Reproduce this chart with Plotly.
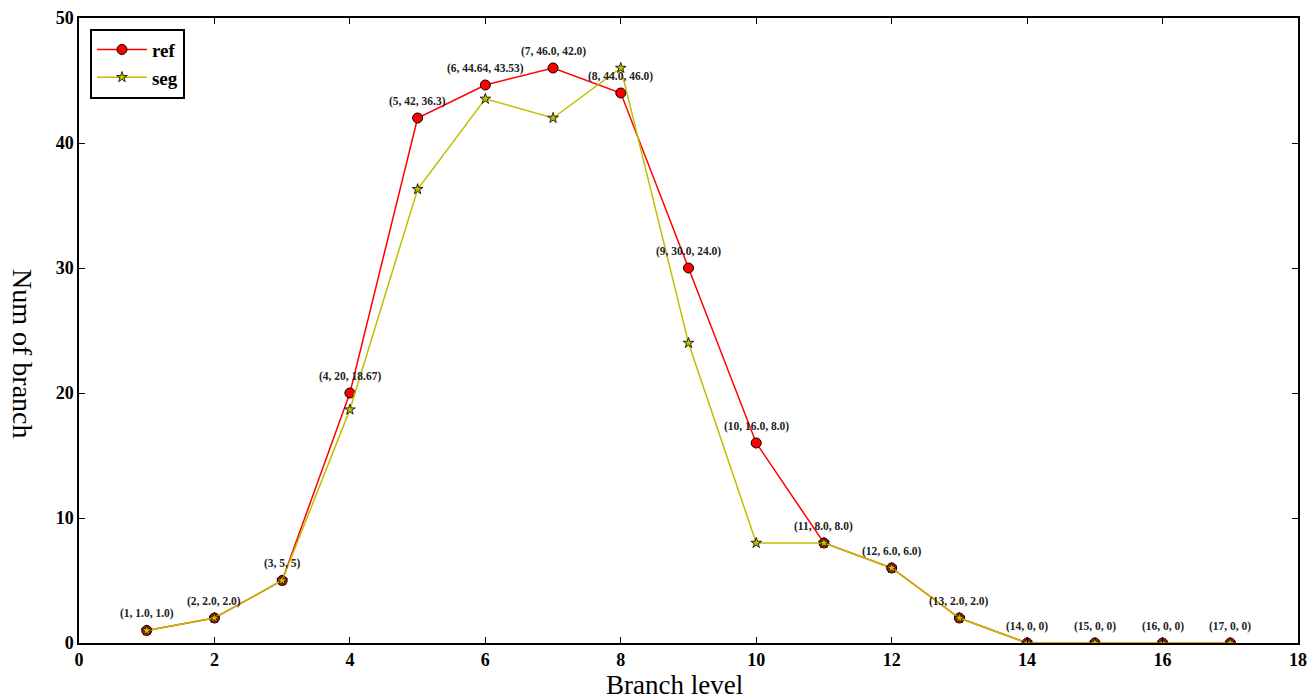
import plotly.graph_objects as go

levels = list(range(1, 18))
ref = [1.0, 2.0, 5, 20, 42, 44.64, 46.0, 44.0, 30.0, 16.0, 8.0, 6.0, 2.0, 0, 0, 0, 0]
seg = [1.0, 2.0, 5, 18.67, 36.3, 43.53, 42.0, 46.0, 24.0, 8.0, 8.0, 6.0, 2.0, 0, 0, 0, 0]
ref_labels = ["1.0", "2.0", "5", "20", "42", "44.64", "46.0", "44.0", "30.0", "16.0", "8.0", "6.0", "2.0", "0", "0", "0", "0"]
seg_labels = ["1.0", "2.0", "5", "18.67", "36.3", "43.53", "42.0", "46.0", "24.0", "8.0", "8.0", "6.0", "2.0", "0", "0", "0", "0"]

FONT = "Liberation Serif"

fig = go.Figure()
fig.add_trace(go.Scatter(
    x=levels, y=ref, name="ref", mode="lines+markers",
    line=dict(color="#ff0000", width=1.5),
    marker=dict(symbol="circle", size=10, color="#ff0000", line=dict(color="black", width=1)),
))
fig.add_trace(go.Scatter(
    x=levels, y=seg, name="seg", mode="lines+markers",
    line=dict(color="#bfbf00", width=1.5),
    marker=dict(symbol="star", size=8, color="#bfbf00", line=dict(color="black", width=0.8)),
))

for lv, r, rl, sl in zip(levels, ref, ref_labels, seg_labels):
    fig.add_annotation(
        x=lv, y=r, text=f"<b>({lv}, {rl}, {sl})</b>", showarrow=False,
        yshift=17, font=dict(family=FONT, size=11.5, color="#222"),
    )

# plot area: x 79..1298, y 18..643 (width 1219, height 625)
fig.add_annotation(
    xref="paper", yref="paper", x=(674 - 79) / 1219, y=(643 - 685) / 625, text="Branch level",
    showarrow=False, xanchor="center", yanchor="middle",
    font=dict(family=FONT, size=27, color="black"),
)
fig.add_annotation(
    xref="paper", yref="paper", x=(23 - 79) / 1219, y=(643 - 354) / 625, text="Num of branch",
    showarrow=False, xanchor="center", yanchor="middle", textangle=90,
    font=dict(family=FONT, size=28, color="black"),
)

fig.update_layout(
    width=1307, height=699,
    margin=dict(l=79, r=9, t=18, b=56),
    paper_bgcolor="white", plot_bgcolor="white",
    showlegend=True,
    legend=dict(
        x=0.009, y=0.983, xanchor="left", yanchor="top",
        bordercolor="black", borderwidth=2, bgcolor="white",
        font=dict(family=FONT, size=19, color="black", weight="bold"),
        itemwidth=50, tracegroupgap=0,
    ),
    font=dict(family=FONT, color="black"),
)
fig.update_xaxes(
    range=[0, 18], tickvals=list(range(0, 19, 2)), showgrid=False, zeroline=False,
    showline=True, linecolor="black", linewidth=1.5, mirror="ticks",
    ticks="inside", ticklen=6, tickcolor="black", automargin=False,
    ticklabeloverflow="allow",
    tickfont=dict(family=FONT, size=18, weight="bold"),
)
fig.update_yaxes(
    range=[0, 50], tickvals=list(range(0, 51, 10)), showgrid=False, zeroline=False,
    showline=True, linecolor="black", linewidth=1.5, mirror="ticks",
    ticks="inside", ticklen=6, tickcolor="black", automargin=False,
    ticklabeloverflow="allow",
    tickfont=dict(family=FONT, size=18, weight="bold"),
)

fig.write_html(
    "out.html",
    config={"displayModeBar": False},
    post_script="document.body.style.margin='0';document.body.style.overflow='hidden';",
)
